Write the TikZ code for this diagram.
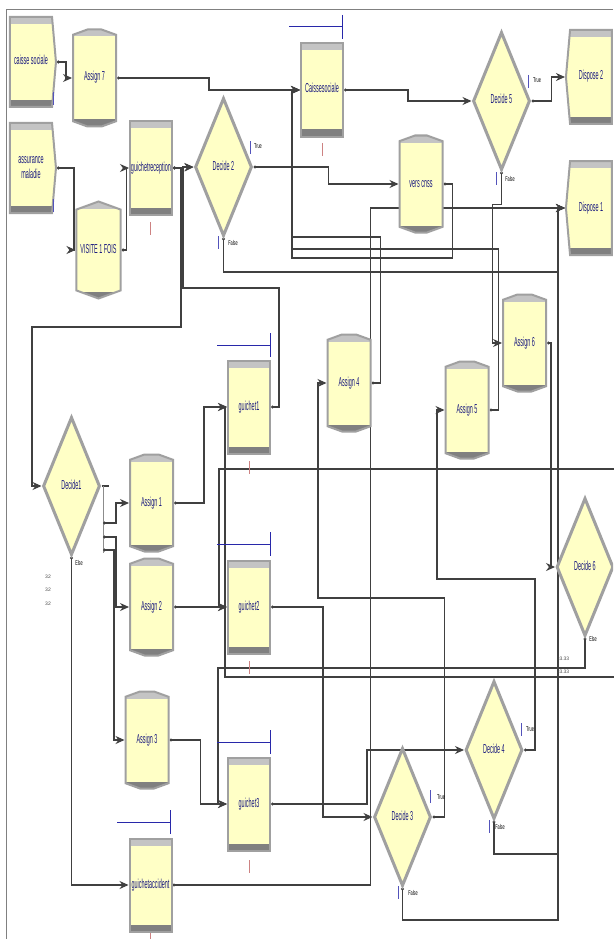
\documentclass[tikz,border=0pt]{standalone}
\usepackage{fontspec}
\setmainfont{Liberation Sans}
\usetikzlibrary{arrows.meta,positioning,backgrounds,shapes.geometric,shapes.misc,shapes.symbols}
\definecolor{ArenaYellow}{RGB}{255,255,198}
\definecolor{ArenaGray}{RGB}{160,160,160}
\definecolor{ArenaLight}{RGB}{196,196,196}
\definecolor{ArenaDark}{RGB}{128,128,128}
\definecolor{ArenaBlue}{RGB}{28,28,128}
\definecolor{QueueBlue}{RGB}{40,40,170}
\definecolor{TickRed}{RGB}{205,130,130}
\newcommand{\mlbl}[1]{\scalebox{0.42}[1]{\begin{tabular}{@{}c@{}}#1\end{tabular}}}
\newcommand{\tlbl}[1]{\scalebox{0.55}[1]{#1}}

\tikzset{
  module/.style={fill=ArenaYellow, draw=ArenaGray, line width=2pt, inner sep=0pt,
    text=ArenaBlue, font=\fontsize{13}{15}\selectfont},
  bands/.style={path picture={
    \fill[ArenaLight] (path picture bounding box.north west)
      rectangle ([yshift=-7pt]path picture bounding box.north east);
    \fill[ArenaDark] (path picture bounding box.south west)
      rectangle ([yshift=7pt]path picture bounding box.south east);}},
  process/.style={module, bands, rectangle, minimum width=42pt, minimum height=93pt},
  assign/.style={module, bands, chamfered rectangle, chamfered rectangle angle=70,
    chamfered rectangle xsep=4pt, chamfered rectangle ysep=11pt,
    minimum width=43pt, minimum height=97pt},
  create/.style={module, bands, signal, signal to=east, signal pointer angle=170,
    minimum width=46pt, minimum height=90pt},
  dispose/.style={module, bands, signal, signal to=west, signal pointer angle=170,
    minimum width=46pt, minimum height=94pt},
  decide/.style={module, diamond, line width=3pt, minimum width=57pt, minimum height=138pt},
  conn/.style={draw=black!75, line width=1.1pt},
  flow/.style={conn, {Circle[length=3pt]}-{Stealth[length=9pt,width=8pt]}},
  tag/.style={font=\fontsize{7}{7}\selectfont, inner sep=0pt},
  tiny/.style={font=\fontsize{5}{5}\selectfont, inner sep=0pt, text=black!70},
  qbar/.style={draw=QueueBlue!80, line width=0.8pt},
  rbar/.style={draw=TickRed, line width=0.8pt},
  res/.style={draw=QueueBlue, line width=1pt},
}

\begin{document}
\begin{tikzpicture}[x=1pt,y=-1pt]
  \useasboundingbox (0,0) rectangle (613,939);
  \clip (0,0) rectangle (613,939);
  \draw[gray, line width=0.8pt] (613,9) -- (6,9) -- (6,939);

  % entrees
  \node[create] (caisse) at (31,62) {\mlbl{caisse sociale}};
  \node[create] (assurance) at (31,168) {\mlbl{assurance\\maladie}};
  \node[assign] (assign7) at (94.5,78) {\mlbl{Assign 7}};
  \node[assign] (visite) at (98.5,250) {\mlbl{VISITE 1 FOIS}};
  \node[process] (guichetrec) at (151,168) {\mlbl{guichetreception}};
  \node[decide] (decide2) at (223.5,167) {\mlbl{Decide 2}};

  % caisse sociale et sorties
  \node[process] (caissesoc) at (322,90) {\mlbl{Caissesociale}};
  \node[decide] (decide5) at (501.5,101) {\mlbl{Decide 5}};
  \node[dispose] (dispose2) at (591,77) {\mlbl{Dispose 2}};
  \node[assign] (verscnss) at (421,184) {\mlbl{vers cnss}};
  \node[dispose] (dispose1) at (591,208) {\mlbl{Dispose 1}};
  \node[assign] (assign6) at (524.5,343) {\mlbl{Assign 6}};
  \node[assign] (assign4) at (349,383) {\mlbl{Assign 4}};
  \node[assign] (assign5) at (467,410) {\mlbl{Assign 5}};

  % guichets
  \node[process] (guichet1) at (249,407) {\mlbl{guichet1}};
  \node[decide] (decide1) at (71.5,486) {\mlbl{Decide1}};
  \node[assign] (assign1) at (151.5,503) {\mlbl{Assign 1}};
  \node[assign] (assign2) at (151.5,607) {\mlbl{Assign 2}};
  \node[process] (guichet2) at (249,607) {\mlbl{guichet2}};
  \node[decide] (decide6) at (585,567) {\mlbl{Decide 6}};
  \node[assign] (assign3) at (147,740) {\mlbl{Assign 3}};
  \node[process] (guichet3) at (249,804) {\mlbl{guichet3}};
  \node[decide] (decide4) at (494,750) {\mlbl{Decide 4}};
  \node[decide] (decide3) at (402.5,817) {\mlbl{Decide 3}};
  \node[process] (guichetacc) at (150.5,885) {\mlbl{guichetaccident}};

  \coordinate (d1a) at (103,523);
  \coordinate (d1b) at (103,537);
  \coordinate (d1c) at (103,550);

  \begin{scope}[on background layer]
    \fill[white] (0,0) rectangle (613,939);
    \draw[flow] (caisse.east) -- ++(9,0) |- (assign7.west);
    \draw[flow] (assign7.east) -- ++(92,0) |- (caissesoc.west);
    \draw[flow] (assurance.east) -- ++(17,0) |- (visite.west);
    \draw[flow] (visite.east) -- ++(5,0) |- (guichetrec.west);
    \draw[flow] (guichetrec.east) -- (decide2.west);
    \draw[flow] (guichetrec.east) -- ++(8,0) |- (32,327) |- (decide1.west);
    \draw[flow] (guichet1.east) -- ++(8,0) |- (183,288) |- (decide2.west);
    \draw[flow] (decide2.east) -- ++(75,0) |- (verscnss.west);
    \draw[flow] (decide2.south) |- (558,272) |- (dispose1.west);
    \draw[flow] (verscnss.east) -- ++(9,0) |- (292,258) |- (caissesoc.west);
    \draw[flow] (caissesoc.east) -- ++(64,0) |- (decide5.west);
    \draw[flow] (decide5.east) -- ++(20,0) |- (dispose2.west);
    \draw[flow] (decide5.south) -- ++(0,33) -- ++(-9,0) |- (assign6.west);
    \draw[flow] (assign5.east) -- ++(9,0) |- (292,249) |- (caissesoc.west);
    \draw[flow] (assign4.east) -- ++(9,0) |- (292,237) |- (caissesoc.west);
    \draw[flow] (assign6.east) -- ++(4,0) |- (decide6.west);
    \draw[flow] (decide6.east) -- ++(8,0) |- (219,469) |- (guichet2.west);
    \draw[flow] (decide6.east) -- ++(8,0) |- (225,677) |- (guichet1.west);
    \draw[flow] (decide6.south) |- (218,668) |- (guichet3.west);
    \draw[conn] (decide1.east) -- ++(7,0);
    \draw[conn, draw=black!45, line width=0.6pt] (103,486) -- (103,553);
    \draw[flow] (d1a) -- ++(13,0) |- (assign1.west);
    \draw[flow] (d1b) -- ++(13,0) |- (assign2.west);
    \draw[flow] (d1c) -- ++(11,0) |- (assign3.west);
    \draw[flow] (decide1.south) |- (guichetacc.west);
    \draw[flow] (assign1.east) -- ++(30,0) |- (guichet1.west);
    \draw[flow] (assign2.east) -- (guichet2.west);
    \draw[flow] (assign3.east) -- ++(31,0) |- (guichet3.west);
    \draw[flow] (guichet2.east) -- ++(52,0) |- (decide3.west);
    \draw[flow] (guichet3.east) -- ++(96,0) |- (decide4.west);
    \draw[flow] (guichetacc.east) -- ++(198,0) |- (dispose1.west);
    \draw[flow] (decide3.east) -- ++(12,0) |- (318,598) |- (assign4.west);
    \draw[flow] (decide3.south) |- (558,920) |- (dispose1.west);
    \draw[flow] (decide4.east) -- ++(11,0) |- (437,579) |- (assign5.west);
    \draw[flow] (decide4.south) |- (558,854) |- (dispose1.west);
  \end{scope}

  % etiquettes des sorties
  \node[tag] at (258,146) {\tlbl{True}};
  \node[tag] at (233,243) {\tlbl{False}};
  \node[tag] at (537,80) {\tlbl{True}};
  \node[tag] at (510,179) {\tlbl{False}};
  \node[tag] at (441,797) {\tlbl{True}};
  \node[tag] at (413,893) {\tlbl{False}};
  \node[tag] at (530,729) {\tlbl{True}};
  \node[tag] at (500,827) {\tlbl{False}};
  \node[tag] at (79,563) {\tlbl{Else}};
  \node[tag] at (593,639) {\tlbl{Else}};
  \node[tiny] at (48,577) {32};
  \node[tiny] at (48,590) {32};
  \node[tiny] at (48,604) {32};
  \node[tiny] at (563,659) {33.33};
  \node[tiny] at (563,672) {33.33};

  % compteurs
  \foreach \x/\y in {53/92, 53/199, 250/141, 218/236, 528/75, 496/172,
                     430/790, 398/886, 521/723, 489/820}
    \draw[qbar] (\x,\y) -- ++(0,13);
  \foreach \x/\y in {150/222, 322/143, 249/461, 249/661, 249/860, 150/933}
    \draw[rbar] (\x,\y) -- ++(0,13);

  % ressources
  \foreach \x/\y in {289/27, 217/345, 217/544, 217/742, 117/822}
    \draw[res] (\x,\y) -- ++(53,0) ++(0,-12) -- ++(0,24);
\end{tikzpicture}
\end{document}
